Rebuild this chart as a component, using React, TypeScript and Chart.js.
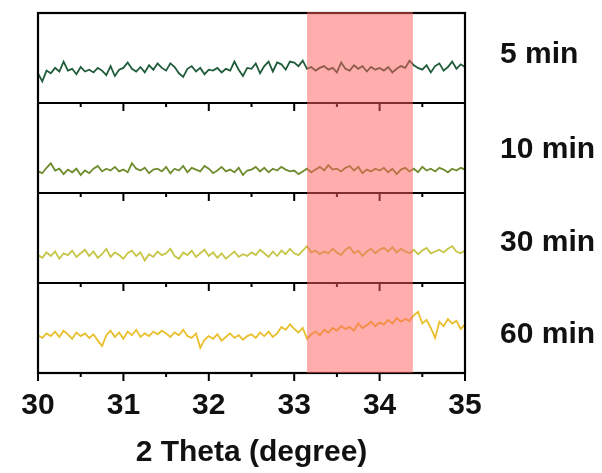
import React, { useEffect, useRef } from "react";
import { Chart, registerables } from "chart.js";

Chart.register(...registerables);

// 2θ sampling grid
const thetaStart = 30;
const thetaStep = 0.05;
const xTickValues = [30, 31, 32, 33, 34, 35];
const highlightRange = [33.15, 34.39];

const panelLabels = ["5 min", "10 min", "30 min", "60 min"];

// intensities (relative units within each panel, 0–100)
const series5min = [
  33, 24, 36, 33, 39, 35, 46, 36, 38, 32,
  40, 35, 37, 34, 39, 36, 31, 41, 30, 37,
  39, 45, 38, 35, 40, 34, 42, 37, 44, 39,
  36, 44, 40, 33, 29, 38, 41, 35, 39, 32,
  37, 36, 39, 34, 38, 36, 46, 37, 30, 39,
  38, 44, 33, 41, 46, 35, 45, 43, 37, 46,
  45, 41, 47, 38, 40, 36, 39, 41, 37, 39,
  34, 45, 38, 36, 42, 38, 41, 35, 40, 37,
  39, 36, 40, 34, 38, 41, 39, 47, 42, 39,
  37, 42, 34, 41, 44, 36, 40, 46, 38, 43,
  40,
];
const series10min = [
  24, 22, 28, 33, 25, 27, 21, 26, 23, 27,
  20, 25, 22, 27, 30, 24, 27, 25, 29, 24,
  26, 23, 33, 27, 25, 28, 22, 26, 27, 24,
  29, 22, 27, 25, 30, 23, 28, 26, 24, 30,
  27, 22, 25, 29, 24, 26, 23, 28, 20, 25,
  26, 29, 24, 28, 23, 27, 25, 29, 26, 24,
  25, 21, 24, 27, 23, 26, 29, 25, 31, 26,
  27, 24, 28, 30, 25, 29, 22, 26, 24, 27,
  25, 28, 23, 27, 21, 26, 28, 24, 27, 23,
  29, 25, 27, 24, 28, 26, 23, 27, 25, 28,
  26,
];
const series30min = [
  31, 28, 34, 30, 35, 27, 33, 31, 36, 29,
  33, 37, 30, 35, 28, 32, 38, 29, 34, 31,
  27, 33, 36, 30, 34, 25, 32, 29, 35, 31,
  33, 38, 30, 27, 34, 31, 36, 29, 33, 37,
  30, 34, 28, 33, 27, 31, 35, 29, 32, 30,
  34, 31, 37, 33, 29, 35, 30, 36, 32, 38,
  33, 31, 36, 41, 34, 36, 32, 35, 33, 38,
  34, 31, 37, 40, 33, 36, 30, 35, 38, 33,
  37, 39, 35, 40, 34, 38, 35, 33, 37, 32,
  36, 39, 33, 35, 37, 34, 38, 41, 35, 33,
  36,
];
const series60min = [
  42, 39, 44, 41, 46, 40, 47, 43, 38, 45,
  41, 44, 39, 43, 36, 30, 42, 47, 40, 45,
  38, 46, 42, 48, 40, 44, 41, 46, 43, 47,
  44, 40, 45, 42, 48, 41, 39, 44, 28, 37,
  41, 38, 43, 36, 40, 44, 39, 42, 37, 41,
  43, 39, 45, 41, 46, 40, 44, 51, 48, 54,
  49, 45, 50, 38, 43, 46, 42, 48, 45, 50,
  47, 52, 49, 51, 47, 55, 50, 53, 57, 52,
  56, 54, 59, 55, 61, 57, 60, 58, 64, 68,
  55, 59, 50, 39, 57, 52, 60, 55, 58, 49,
  54,
];

const allSeries = [series5min, series10min, series30min, series60min];
const lineColors = ["#1f5c3a", "#6e8c2e", "#c6c545", "#eabf2c"];
const FONT = '"Liberation Sans", Arial, Helvetica, sans-serif';

export default function App() {
  const canvasRef = useRef<HTMLCanvasElement | null>(null);

  useEffect(() => {
    if (!canvasRef.current) return;
    const nPanels = allSeries.length;

    const datasets = allSeries.map((s, k) => ({
      label: panelLabels[k],
      data: s.map((v, i) => ({ x: thetaStart + i * thetaStep, y: v + (nPanels - 1 - k) * 100 })),
      borderColor: lineColors[k],
      borderWidth: 1.8,
      pointRadius: 0,
      tension: 0,
      fill: false,
    }));

    const panelPlugin = {
      id: "panelPlugin",
      afterDatasetsDraw(chart: any) {
        const { ctx, chartArea, scales } = chart;
        const x = scales.x;
        const y = scales.y;
        const { left, right, top, bottom } = chartArea;
        ctx.save();
        ctx.strokeStyle = "#000";
        ctx.lineWidth = 2.2;
        ctx.strokeRect(left, top, right - left, bottom - top);
        for (let b = 1; b < nPanels; b++) {
          const py = y.getPixelForValue(b * 100);
          ctx.beginPath();
          ctx.moveTo(left, py);
          ctx.lineTo(right, py);
          ctx.stroke();
        }
        // ticks below each panel
        ctx.lineWidth = 2;
        for (let b = 0; b < nPanels; b++) {
          const py = y.getPixelForValue(b * 100);
          for (let t = xTickValues[0]; t <= xTickValues[xTickValues.length - 1] + 1e-9; t += 0.5) {
            const px = x.getPixelForValue(t);
            const major = Math.abs(t - Math.round(t)) < 1e-6;
            ctx.beginPath();
            ctx.moveTo(px, py);
            ctx.lineTo(px, py + (major ? 8 : 4));
            ctx.stroke();
          }
        }
        // highlighted band
        const bx0 = x.getPixelForValue(highlightRange[0]);
        const bx1 = x.getPixelForValue(highlightRange[1]);
        ctx.fillStyle = "rgba(255, 92, 92, 0.5)";
        ctx.fillRect(bx0, top - 1, bx1 - bx0, bottom - top + 1);
        // panel labels
        ctx.fillStyle = "#111";
        ctx.font = `bold 30px ${FONT}`;
        ctx.textAlign = "left";
        ctx.textBaseline = "alphabetic";
        const offs = [50, 55, 58, 60];
        for (let k = 0; k < nPanels; k++) {
          const pTop = y.getPixelForValue((nPanels - k) * 100);
          ctx.fillText(panelLabels[k], 500, pTop + offs[k]);
        }
        ctx.restore();
      },
    };

    const chart = new Chart(canvasRef.current, {
      type: "line",
      data: { datasets },
      options: {
        animation: false,
        responsive: false,
        maintainAspectRatio: false,
        layout: { padding: { left: 38, right: 137, top: 13, bottom: 0 } },
        plugins: { legend: { display: false }, tooltip: { enabled: false } },
        scales: {
          x: {
            type: "linear",
            min: 30,
            max: 35,
            afterFit: (scale: any) => {
              scale.height = 100;
            },
            afterBuildTicks: (scale: any) => {
              scale.ticks = xTickValues.map((v) => ({ value: v }));
            },
            ticks: {
              stepSize: 1,
              color: "#111",
              padding: 15,
              maxRotation: 0,
              autoSkip: false,
              font: { family: FONT, size: 30, weight: "bold" },
            },
            grid: { display: false, drawTicks: false },
            border: { display: false },
            title: {
              display: true,
              text: "2 Theta (degree)",
              color: "#111",
              font: { family: FONT, size: 30, weight: "bold" },
              padding: { top: 4, bottom: 2 },
            },
          },
          y: {
            type: "linear",
            min: 0,
            max: 400,
            display: false,
          },
        },
      },
      plugins: [panelPlugin],
    } as any);

    return () => chart.destroy();
  }, []);

  return (
    <div style={{ position: "absolute", left: 0, top: 0, width: 602, height: 473, background: "#fff" }}>
      <canvas ref={canvasRef} width={602} height={473} style={{ display: "block" }} />
    </div>
  );
}
